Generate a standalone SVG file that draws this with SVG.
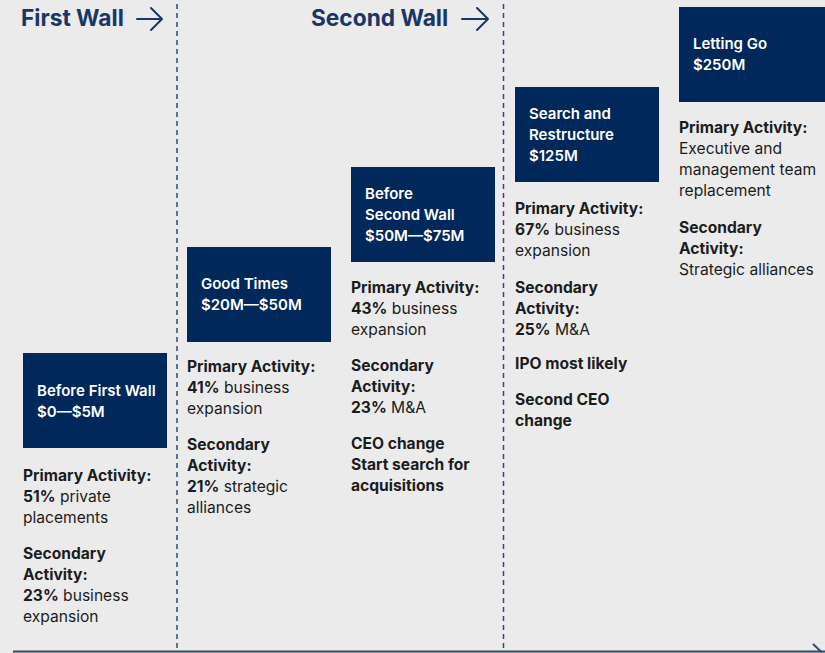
<svg xmlns="http://www.w3.org/2000/svg" width="825" height="653" viewBox="0 0 825 653">
  <style>
    .bg { fill: #ebebeb; }
    .box { fill: #00285a; }
    .title { font-family: Inter, "Liberation Sans", Arial, sans-serif; font-size: 15px; font-weight: 600; fill: #ffffff; }
    .body { font-family: Inter, "Liberation Sans", Arial, sans-serif; font-size: 15.6px; fill: #1c1c1c; }
    .b { font-weight: 700; }
    .head { font-family: Inter, "Liberation Sans", Arial, sans-serif; font-size: 22.7px; font-weight: 700; fill: #1b3564; }
    .wall { stroke: #2c4a74; stroke-width: 1.5; stroke-dasharray: 5 4; fill: none; }
    .harrow { stroke: #1b3564; stroke-width: 2; fill: none; stroke-linecap: round; stroke-linejoin: round; }
    .axis { stroke: #2c4a74; stroke-width: 2; fill: none; }
  </style>
  <rect class="bg" x="0" y="0" width="825" height="653"/>

  <!-- wall markers and time axis -->
  <g id="connectors">
    <line class="wall" x1="177" y1="4" x2="177" y2="652"/>
    <line class="wall" x1="503.5" y1="4" x2="503.5" y2="652"/>
    <line class="axis" x1="13" y1="651.5" x2="825" y2="651.5"/>
    <path class="axis" d="M813 644 L822 652.5"/>
  </g>

  <g id="first-wall">
    <text class="head" x="21" y="26">First Wall</text>
    <path class="harrow" d="M137 19 H162 M151 8 L162 19 L151 30"/>
  </g>
  <g id="second-wall">
    <text class="head" x="311" y="26">Second Wall</text>
    <path class="harrow" d="M462 19 H488 M477 8 L488 19 L477 30"/>
  </g>

  <g id="stage-before-first-wall">
    <rect class="box" x="23" y="353" width="144" height="95"/>
    <text class="title" x="37" y="396">Before First Wall</text>
    <text class="title" x="37" y="417">$0—$5M</text>
    <text class="body" x="23" y="481"><tspan class="b">Primary Activity:</tspan></text>
    <text class="body" x="23" y="502"><tspan class="b">51%</tspan> private</text>
    <text class="body" x="23" y="523">placements</text>
    <text class="body b" x="23" y="559">Secondary</text>
    <text class="body b" x="23" y="580">Activity:</text>
    <text class="body" x="23" y="601"><tspan class="b">23%</tspan> business</text>
    <text class="body" x="23" y="622">expansion</text>
  </g>

  <g id="stage-good-times">
    <rect class="box" x="187" y="247" width="144" height="95"/>
    <text class="title" x="201" y="289">Good Times</text>
    <text class="title" x="201" y="310">$20M—$50M</text>
    <text class="body b" x="187" y="372">Primary Activity:</text>
    <text class="body" x="187" y="393"><tspan class="b">41%</tspan> business</text>
    <text class="body" x="187" y="414">expansion</text>
    <text class="body b" x="187" y="450">Secondary</text>
    <text class="body b" x="187" y="471">Activity:</text>
    <text class="body" x="187" y="492"><tspan class="b">21%</tspan> strategic</text>
    <text class="body" x="187" y="513">alliances</text>
  </g>

  <g id="stage-before-second-wall">
    <rect class="box" x="351" y="167" width="144" height="95"/>
    <text class="title" x="365" y="199">Before</text>
    <text class="title" x="365" y="220">Second Wall</text>
    <text class="title" x="365" y="241">$50M—$75M</text>
    <text class="body b" x="351" y="293">Primary Activity:</text>
    <text class="body" x="351" y="314"><tspan class="b">43%</tspan> business</text>
    <text class="body" x="351" y="335">expansion</text>
    <text class="body b" x="351" y="371">Secondary</text>
    <text class="body b" x="351" y="392">Activity:</text>
    <text class="body" x="351" y="413"><tspan class="b">23%</tspan> M&amp;A</text>
    <text class="body b" x="351" y="449">CEO change</text>
    <text class="body b" x="351" y="470">Start search for</text>
    <text class="body b" x="351" y="491">acquisitions</text>
  </g>

  <g id="stage-search-and-restructure">
    <rect class="box" x="515" y="87" width="144" height="95"/>
    <text class="title" x="529" y="119">Search and</text>
    <text class="title" x="529" y="140">Restructure</text>
    <text class="title" x="529" y="161">$125M</text>
    <text class="body b" x="515" y="214">Primary Activity:</text>
    <text class="body" x="515" y="235"><tspan class="b">67%</tspan> business</text>
    <text class="body" x="515" y="256">expansion</text>
    <text class="body b" x="515" y="293">Secondary</text>
    <text class="body b" x="515" y="314">Activity:</text>
    <text class="body" x="515" y="335"><tspan class="b">25%</tspan> M&amp;A</text>
    <text class="body b" x="515" y="369">IPO most likely</text>
    <text class="body b" x="515" y="405">Second CEO</text>
    <text class="body b" x="515" y="426">change</text>
  </g>

  <g id="stage-letting-go">
    <rect class="box" x="679" y="7" width="146" height="95"/>
    <text class="title" x="693" y="49">Letting Go</text>
    <text class="title" x="693" y="70">$250M</text>
    <text class="body b" x="679" y="133">Primary Activity:</text>
    <text class="body" x="679" y="154">Executive and</text>
    <text class="body" x="679" y="175">management team</text>
    <text class="body" x="679" y="196">replacement</text>
    <text class="body b" x="679" y="233">Secondary</text>
    <text class="body b" x="679" y="254">Activity:</text>
    <text class="body" x="679" y="275">Strategic alliances</text>
  </g>
</svg>
